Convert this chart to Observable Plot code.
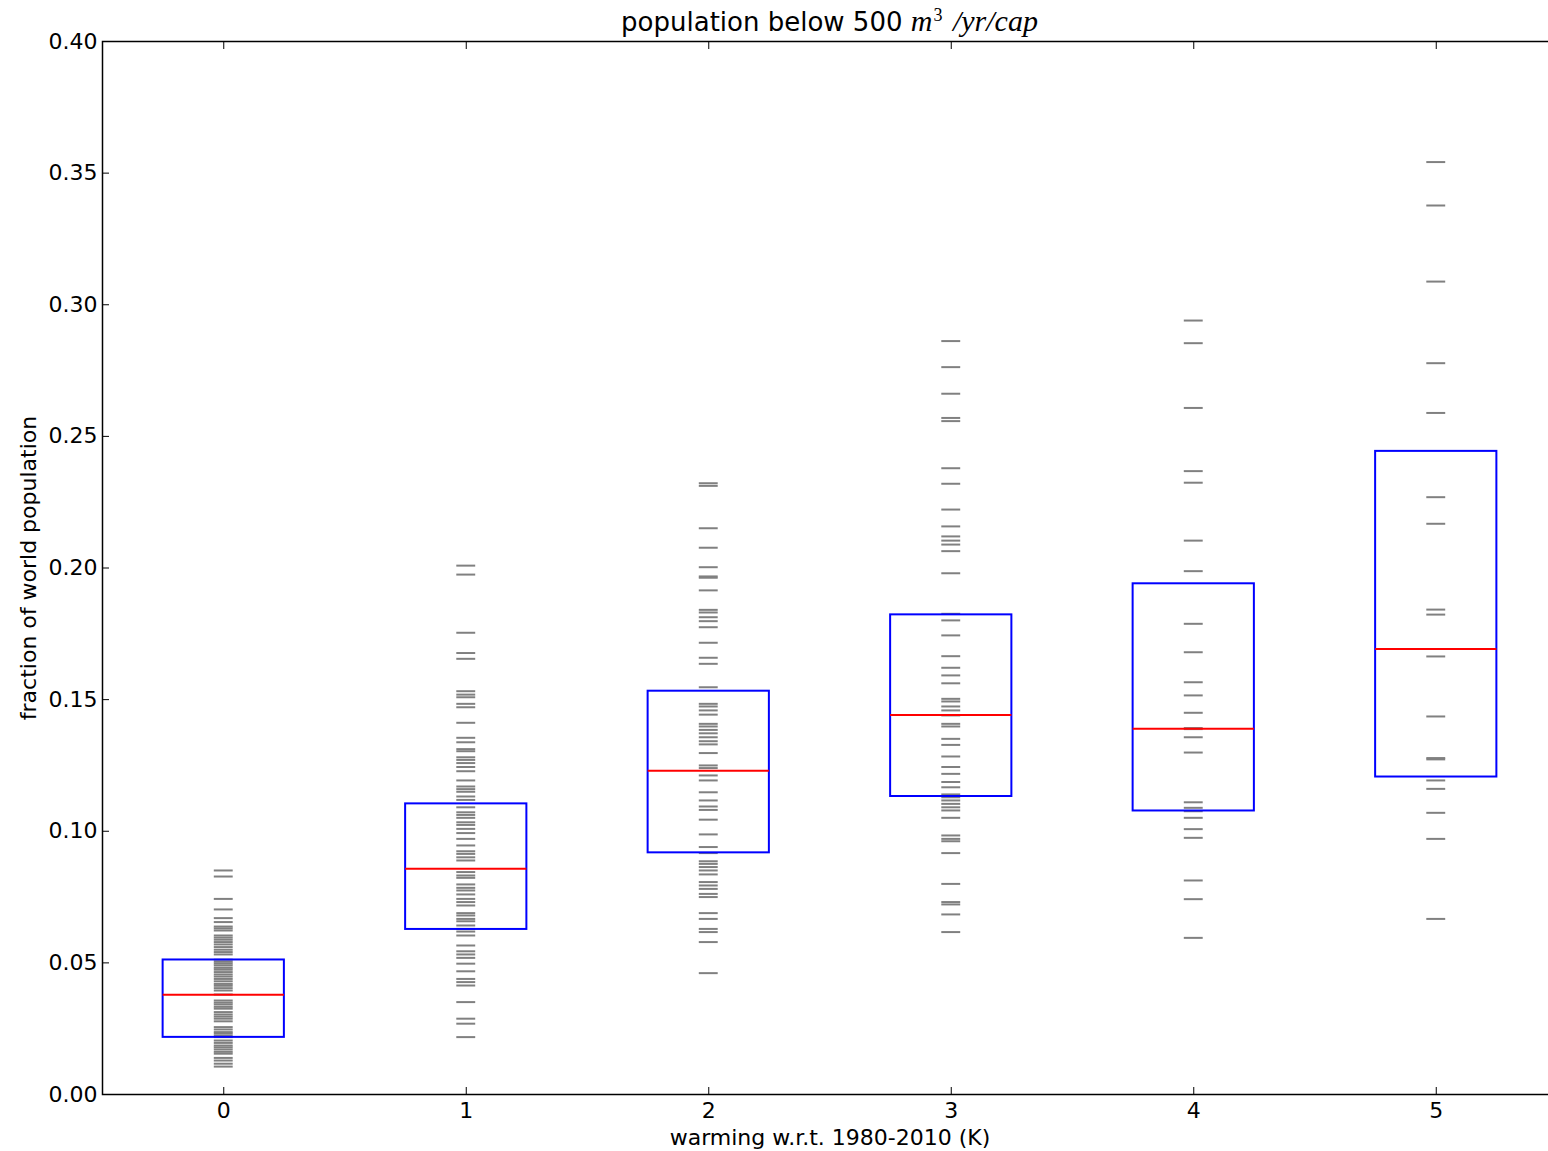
<!DOCTYPE html>
<html><head><meta charset="utf-8">
<script src="https://cdn.jsdelivr.net/npm/d3@7"></script>
<script src="https://cdn.jsdelivr.net/npm/@observablehq/plot@0.6"></script>
<style>
html,body{margin:0;padding:0;background:#fff;overflow:hidden;width:1548px;height:1151px;}
#wrap{position:relative;width:1560px;height:1151px;}
#wrap svg{position:absolute;left:0;top:0;}
#title{position:absolute;left:102px;width:1455px;top:4px;text-align:center;font-family:"DejaVu Sans";font-size:26px;color:#000;white-space:nowrap;line-height:34px;height:36px;}
#title .m{font-family:"Liberation Serif";font-style:italic;font-size:30px;}
#title sup{font-size:18px;position:relative;top:2px;vertical-align:top;line-height:18px;font-style:normal;padding-left:1px;padding-right:3px;}
</style></head><body><div id="wrap"></div>
<script>
const warming = [0, 1, 2, 3, 4, 5];
const xTicks = [0, 1, 2, 3, 4, 5];
const yTicks = [0, 0.05, 0.10, 0.15, 0.20, 0.25, 0.30, 0.35, 0.40];
const titleText = "population below 500 ";
const xLabel = "warming w.r.t. 1980-2010 (K)";
const yLabel = "fraction of world population";

const q1 = [0.0217, 0.0627, 0.0918, 0.1132, 0.1077, 0.1206];
const median = [0.0379, 0.0858, 0.1230, 0.1442, 0.1389, 0.1692];
const q3 = [0.0511, 0.1104, 0.1532, 0.1822, 0.1940, 0.2443];

const samples0 = [0.0851, 0.0828, 0.0743, 0.0703, 0.0670, 0.0655, 0.0638, 0.0631, 0.0623, 0.0604, 0.0596, 0.0588,
  0.0579, 0.0570, 0.0560, 0.0550, 0.0541, 0.0532, 0.0512, 0.0504, 0.0497, 0.0490, 0.0481, 0.0474, 0.0465, 0.0456,
  0.0448, 0.0439, 0.0430, 0.0420, 0.0413, 0.0404, 0.0395, 0.0380, 0.0357, 0.0349, 0.0342, 0.0333, 0.0326,
  0.0313, 0.0304, 0.0296, 0.0288, 0.0278, 0.0256, 0.0247, 0.0237, 0.0231, 0.0223, 0.0218, 0.0205, 0.0196,
  0.0186, 0.0179, 0.0171, 0.0162, 0.0155, 0.0139, 0.0129, 0.0117, 0.0106];
const samples1 = [0.2009, 0.1975, 0.1754, 0.1677, 0.1655, 0.1532, 0.1519, 0.1509, 0.1484, 0.1471, 0.1412, 0.1355,
  0.1338, 0.1312, 0.1304, 0.1281, 0.1271, 0.1259, 0.1244, 0.1228, 0.1193, 0.1170, 0.1160, 0.1150, 0.1132, 0.1119,
  0.1091, 0.1072, 0.1062, 0.1051, 0.1034, 0.1024, 0.1009, 0.0993, 0.0971, 0.0946, 0.0924, 0.0914, 0.0901, 0.0889,
  0.0845, 0.0832, 0.0823, 0.0798, 0.0785, 0.0775, 0.0760, 0.0743, 0.0731, 0.0718, 0.0689, 0.0680, 0.0667, 0.0658,
  0.0642, 0.0629, 0.0619, 0.0604, 0.0566, 0.0544, 0.0532, 0.0519, 0.0497, 0.0468, 0.0439, 0.0427, 0.0414,
  0.0351, 0.0288, 0.0269, 0.0218];
const samples2 = [0.2322, 0.2312, 0.2151, 0.2077, 0.2003, 0.1968, 0.1963, 0.1915, 0.1841, 0.1831, 0.1813, 0.1798,
  0.1775, 0.1716, 0.1659, 0.1636, 0.1547, 0.1484, 0.1474, 0.1459, 0.1443, 0.1408, 0.1398, 0.1385, 0.1372, 0.1357,
  0.1342, 0.1330, 0.1297, 0.1250, 0.1240, 0.1212, 0.1193, 0.1148, 0.1117, 0.1094, 0.1081, 0.1044, 0.0988, 0.0940,
  0.0917, 0.0886, 0.0876, 0.0864, 0.0851, 0.0836, 0.0807, 0.0794, 0.0781, 0.0762, 0.0750, 0.0689, 0.0667,
  0.0629, 0.0617, 0.0579, 0.0461];
const samples3 = [0.2862, 0.2763, 0.2662, 0.2570, 0.2558, 0.2379, 0.2320, 0.2222, 0.2158, 0.2120, 0.2104, 0.2089,
  0.2064, 0.1980, 0.1826, 0.1801, 0.1744, 0.1665, 0.1621, 0.1592, 0.1562, 0.1503, 0.1493, 0.1474, 0.1459, 0.1440,
  0.1408, 0.1398, 0.1351, 0.1328, 0.1284, 0.1244, 0.1218, 0.1187, 0.1167, 0.1140, 0.1129, 0.1117, 0.1104, 0.1091,
  0.1079, 0.1051, 0.0984, 0.0971, 0.0962, 0.0917, 0.0800, 0.0731, 0.0722, 0.0684, 0.0617];
const samples4 = [0.2940, 0.2854, 0.2608, 0.2368, 0.2324, 0.2104, 0.1988, 0.1788, 0.1680, 0.1566, 0.1516, 0.1450,
  0.1392, 0.1388, 0.1357, 0.1299, 0.1110, 0.1089, 0.1076, 0.1051, 0.1008, 0.0975, 0.0813, 0.0742, 0.0595];
const samples5 = [0.3542, 0.3377, 0.3088, 0.2778, 0.2589, 0.2269, 0.2168, 0.1842, 0.1823, 0.1664, 0.1436, 0.1278,
  0.1273, 0.1193, 0.1161, 0.1070, 0.0971, 0.0667];
const samples = [samples0, samples1, samples2, samples3, samples4, samples5];

const rows = samples.flatMap((vals, i) => vals.map(v => ({x: warming[i], v})));
const boxes = warming.map((x, i) => ({x, q1: q1[i], med: median[i], q3: q3[i]}));
const dashHalf = 0.039, boxHalf = 0.25;

const chart = Plot.plot({
  width: 1560, height: 1151,
  marginLeft: 102, marginRight: 3, marginTop: 41, marginBottom: 57,
  x: {domain: [-0.5, 5.5]},
  y: {domain: [0, 0.40]},
  style: {fontFamily: "DejaVu Sans", fontSize: "22px", color: "#000", background: "#fff"},
  marks: [
    Plot.ruleY(rows, {y: "v", x1: d => d.x - dashHalf, x2: d => d.x + dashHalf, stroke: "#808080", strokeWidth: 2}),
    Plot.rect(boxes, {x1: d => d.x - boxHalf, x2: d => d.x + boxHalf, y1: "q1", y2: "q3", stroke: "#0000ff", strokeWidth: 2, fill: "none"}),
    Plot.ruleY(boxes, {y: "med", x1: d => d.x - boxHalf, x2: d => d.x + boxHalf, stroke: "#ff0000", strokeWidth: 2}),
    Plot.frame({stroke: "#000", strokeWidth: 1.5}),
    Plot.axisX({anchor: "bottom", ticks: xTicks, tickSize: -7, tickPadding: 15, tickFormat: d => String(d), label: null, stroke: "#000"}),
    Plot.axisX({anchor: "top", ticks: xTicks, tickSize: -7, tickFormat: () => "", label: null, stroke: "#000"}),
    Plot.axisY({anchor: "left", ticks: yTicks, tickSize: -7, tickPadding: 12, tickFormat: d3.format(".2f"), label: null, stroke: "#000"}),
    Plot.axisY({anchor: "right", ticks: yTicks, tickSize: -7, tickFormat: () => "", label: null, stroke: "#000"}),
    Plot.text([xLabel], {text: d => d, frameAnchor: "bottom", dy: 43, lineAnchor: "middle", fontSize: 22, fill: "#000"}),
    Plot.text([yLabel], {text: d => d, frameAnchor: "left", dx: -74, rotate: -90, textAnchor: "middle", lineAnchor: "middle", fontSize: 22, fill: "#000"})
  ]
});
const wrap = document.getElementById("wrap");
wrap.appendChild(chart);
const title = document.createElement("div");
title.id = "title";
title.appendChild(document.createTextNode(titleText));
const m = document.createElement("span");
m.className = "m";
m.innerHTML = "m<sup>3</sup> /yr/cap";
title.appendChild(m);
wrap.appendChild(title);
</script>
</body></html>
